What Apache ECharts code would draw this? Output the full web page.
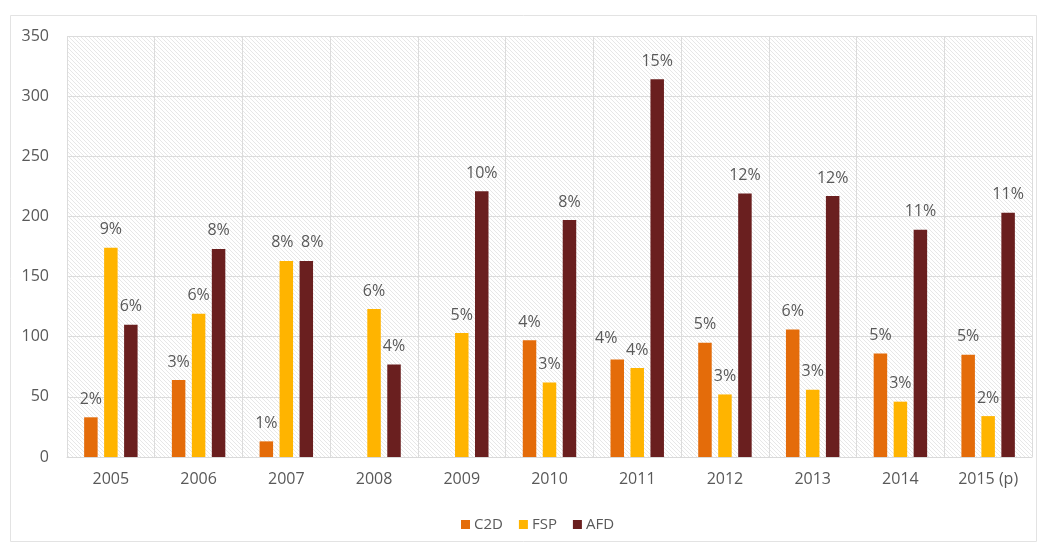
<!DOCTYPE html>
<html>
<head>
<meta charset="utf-8">
<script src="https://cdn.jsdelivr.net/npm/echarts@6/dist/echarts.min.js"></script>
<style>
  html, body { margin: 0; padding: 0; background: #ffffff; }
  #chart { width: 1040px; height: 543px; }
</style>
</head>
<body>
<div id="chart"></div>
<script>
// Years on the horizontal axis
const years = ['2005', '2006', '2007', '2008', '2009', '2010', '2011', '2012', '2013', '2014', '2015 (p)'];

// Amounts per programme (null = no bar that year)
const c2dValues = [33, 64, 13, null, null, 97, 81, 95, 106, 86, 85];
const fspValues = [174, 119, 163, 123, 103, 62, 74, 52, 56, 46, 34];
const afdValues = [110, 173, 163, 77, 221, 197, 314, 219, 217, 189, 203];

// Share labels written above each bar
const c2dShares = ['2%', '3%', '1%', '', '', '4%', '4%', '5%', '6%', '5%', '5%'];
const fspShares = ['9%', '6%', '8%', '6%', '5%', '3%', '4%', '3%', '3%', '3%', '2%'];
const afdShares = ['6%', '8%', '8%', '4%', '10%', '8%', '15%', '12%', '12%', '11%', '11%'];

// Y axis ticks
const yTicks = [0, 50, 100, 150, 200, 250, 300, 350];

const textColor = '#595959';
const fontFamily = '"Open Sans", "DejaVu Sans", sans-serif';

// Labels nudged sideways so neighbouring ones do not collide
const labelNudges = {
  C2D: { 6: [-11, -3] },
  FSP: { 2: [-4, 0] },
  AFD: { 2: [6, 0] }
};

// Fine diagonal hatch used as the plot background
const hatch = document.createElement('canvas');
hatch.width = 4; hatch.height = 4;
(function () {
  const g = hatch.getContext('2d');
  g.fillStyle = '#ffffff';
  g.fillRect(0, 0, 4, 4);
  g.strokeStyle = 'rgba(195,195,195,0.4)';
  g.lineWidth = 1;
  g.beginPath();
  g.moveTo(-1, -1); g.lineTo(5, 5);
  g.moveTo(-1, 3); g.lineTo(1, 5);
  g.moveTo(3, -1); g.lineTo(5, 1);
  g.stroke();
})();

function makeSeries(name, values, shares, color) {
  const nudges = labelNudges[name] || {};
  return {
    name: name,
    type: 'bar',
    barWidth: 13.5,
    barGap: '48%',
    data: values.map(function (v, i) {
      const lbl = { formatter: shares[i] };
      if (nudges[i]) lbl.offset = nudges[i];
      return { value: v, label: lbl };
    }),
    itemStyle: { color: color },
    label: {
      show: true,
      position: 'top',
      distance: 10,
      color: textColor,
      fontFamily: fontFamily,
      fontSize: 16
    }
  };
}

const chart = echarts.init(document.getElementById('chart'), null, { renderer: 'canvas' });

chart.setOption({
  animation: false,
  backgroundColor: '#ffffff',
  graphic: [{
    type: 'rect',
    left: 8, top: 13,
    shape: { width: 1026, height: 526 },
    style: { fill: 'none', stroke: '#e3e3e3', lineWidth: 1 },
    z: -10
  }],
  grid: {
    left: 67, right: 8, top: 36, bottom: 86,
    show: true,
    borderWidth: 0,
    backgroundColor: { image: hatch, repeat: 'repeat' }
  },
  legend: {
    top: 512,
    left: 456,
    itemWidth: 9,
    itemHeight: 9,
    itemGap: 16,
    icon: 'rect',
    textStyle: { color: textColor, fontFamily: fontFamily, fontSize: 15, padding: [0, 0, 0, -1] },
    data: ['C2D', 'FSP', 'AFD']
  },
  xAxis: {
    type: 'category',
    data: years,
    axisLine: { show: true, lineStyle: { color: '#d9d9d9' } },
    axisTick: { show: false },
    splitLine: { show: true, lineStyle: { color: '#dcdcdc', width: 1 } },
    axisLabel: { color: textColor, fontFamily: fontFamily, fontSize: 16, margin: 14, interval: 0 }
  },
  yAxis: {
    type: 'value',
    min: yTicks[0],
    max: yTicks[yTicks.length - 1],
    interval: yTicks[1] - yTicks[0],
    axisLine: { show: false },
    axisTick: { show: false },
    splitLine: { show: true, lineStyle: { color: '#dcdcdc', width: 1 } },
    axisLabel: { color: textColor, fontFamily: fontFamily, fontSize: 16, margin: 18 }
  },
  series: [
    makeSeries('C2D', c2dValues, c2dShares, '#E46C0A'),
    makeSeries('FSP', fspValues, fspShares, '#FFB400'),
    makeSeries('AFD', afdValues, afdShares, '#6A1F1F')
  ]
});
</script>
</body>
</html>
